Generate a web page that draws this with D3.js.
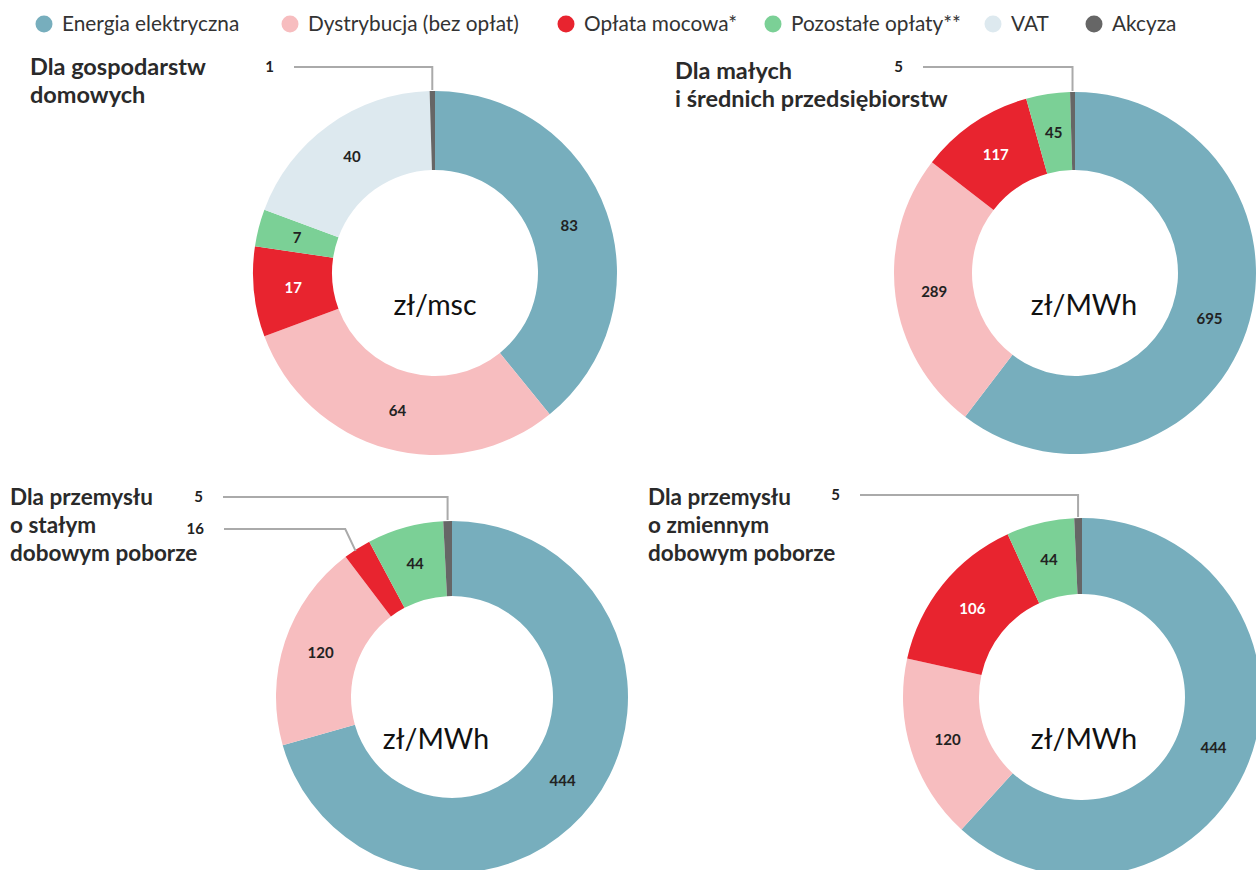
<!DOCTYPE html>
<html><head><meta charset="utf-8">
<script src="https://cdn.jsdelivr.net/npm/d3@7"></script>
<style>
body{margin:0;background:#fff;}
svg{display:block;font-family:Lato, "Noto Sans", sans-serif;}
</style></head>
<body>
<svg id="chart" width="1256" height="870"></svg>
<script>
// ---- data ----
const categories = ["Energia elektryczna","Dystrybucja (bez opłat)","Opłata mocowa*","Pozostałe opłaty**","VAT","Akcyza"];
const colors = ["#77aebd","#f7bdbf","#e8242f","#7bd096","#dde9ef","#666666"];
const householdValues = [83,64,17,7,40,1];
const smeValues = [695,289,117,45,0,5];
const fixedIndustryValues = [444,120,16,44,0,5];
const variableIndustryValues = [444,120,106,44,0,5];
const titles = [
  ["Dla gospodarstw","domowych"],
  ["Dla małych","i średnich przedsiębiorstw"],
  ["Dla przemysłu","o stałym","dobowym poborze"],
  ["Dla przemysłu","o zmiennym","dobowym poborze"]
];
const units = ["zł/msc","zł/MWh","zł/MWh","zł/MWh"];

// ---- layout ----
const legendX = [44,290,566,773,993,1094];
const layout = [
  {values:householdValues, cx:435, cy:273, ro:182, ri:103, tx:30, ty:75, ts:23.5, ux:435, uy:315,
   leaders:[{i:5,type:"v",lx:274,ly:67}]},
  {values:smeValues, cx:1075, cy:273, ro:181, ri:103, tx:675, ty:79, ts:23.5, ux:1084, uy:315,
   leaders:[{i:5,type:"v",lx:903,ly:67}]},
  {values:fixedIndustryValues, cx:452, cy:697, ro:176, ri:101, tx:10, ty:505, ts:22.5, ux:436, uy:749,
   leaders:[{i:5,type:"v",lx:203,ly:497},{i:2,type:"e",lx:204,ly:529}]},
  {values:variableIndustryValues, cx:1082, cy:697, ro:179, ri:103, tx:648, ty:505, ts:22.5, ux:1084, uy:749,
   leaders:[{i:5,type:"v",lx:840,ly:495}]}
];

const svg = d3.select("#chart");

// legend
const leg = svg.append("g");
categories.forEach((c,i)=>{
  leg.append("circle").attr("cx",legendX[i]).attr("cy",24).attr("r",8.5).attr("fill",colors[i]);
  leg.append("text").attr("x",legendX[i]+18).attr("y",31).attr("font-size",20.8)
    .attr("fill","#333").text(c);
});

const pie = d3.pie().sort(null).value(d=>d.v);

layout.forEach((L,k)=>{
  const g = svg.append("g");
  const data = L.values.map((v,i)=>({v,i}));
  const arcs = pie(data);
  const arc = d3.arc().innerRadius(L.ri).outerRadius(L.ro);
  const mid = (L.ri+L.ro)/2;
  const labelArc = d3.arc().innerRadius(mid).outerRadius(mid);
  const chart = g.append("g").attr("transform",`translate(${L.cx},${L.cy})`);
  chart.selectAll("path").data(arcs.filter(a=>a.data.v>0)).join("path")
    .attr("d",arc).attr("fill",d=>colors[d.data.i]);
  const leaderIdx = L.leaders.map(l=>l.i);
  chart.selectAll("text.val").data(arcs.filter(a=>a.data.v>0 && !leaderIdx.includes(a.data.i))).join("text")
    .attr("class","val")
    .attr("transform",d=>`translate(${labelArc.centroid(d)})`)
    .attr("text-anchor","middle").attr("dy","0.35em")
    .attr("font-size",15).attr("font-weight","bold")
    .attr("fill",d=>d.data.i===2?"#fff":"#222")
    .text(d=>d.data.v);

  // leaders
  L.leaders.forEach(l=>{
    const a = arcs[l.i];
    const ang = (a.startAngle+a.endAngle)/2;
    const px = L.cx + (L.ro+1)*Math.sin(ang), py = L.cy - (L.ro+1)*Math.cos(ang);
    let pts;
    if(l.type==="v"){
      pts = [[px,py],[px,l.ly],[l.lx+20,l.ly]];
    } else {
      const r2 = L.ro + 22;
      const ex = L.cx + r2*Math.sin(ang);
      pts = [[px-1,py+3],[ex,l.ly],[l.lx+20,l.ly]];
    }
    g.append("path").attr("d",d3.line()(pts)).attr("fill","none")
      .attr("stroke","#aaaaaa").attr("stroke-width",2);
    g.append("text").attr("x",l.lx).attr("y",l.ly).attr("dy","0.35em")
      .attr("text-anchor","end").attr("font-size",15).attr("font-weight","bold")
      .attr("fill","#222").text(a.data.v);
  });

  // unit
  g.append("text").attr("x",L.ux).attr("y",L.uy).attr("text-anchor","middle")
    .attr("font-size",28.5).attr("fill","#111").text(units[k]);

  // title
  const t = g.append("text").attr("x",L.tx).attr("y",L.ty).attr("font-size",L.ts)
    .attr("font-weight","bold").attr("fill","#2a2a2a");
  titles[k].forEach((line,j)=>{
    t.append("tspan").attr("x",L.tx).attr("dy",j===0?0:28).text(line);
  });
});
</script>
</body></html>
